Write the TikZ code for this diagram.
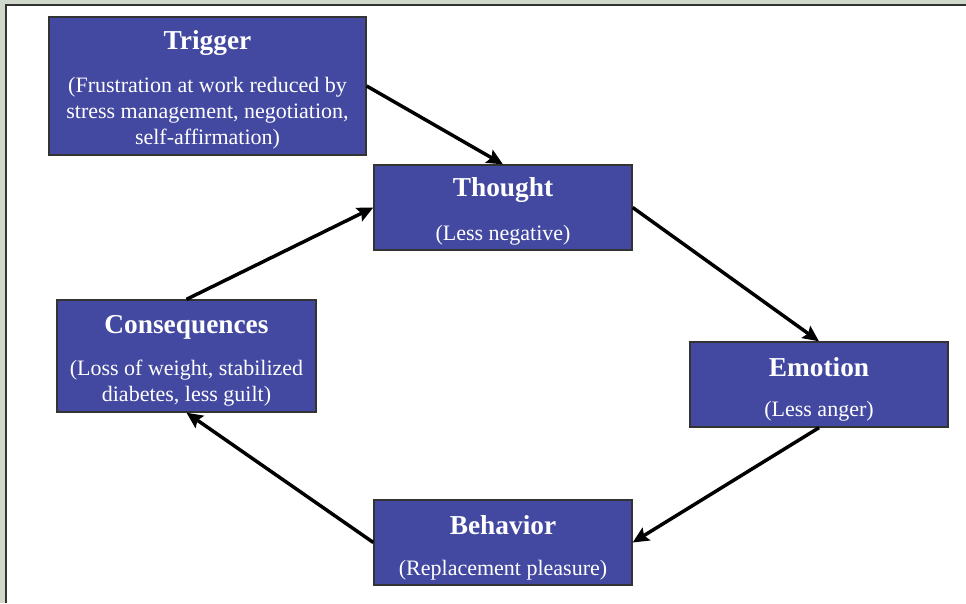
\documentclass[tikz,border=0pt]{standalone}
\usepackage{fontspec}
\setmainfont{Liberation Serif}
\usetikzlibrary{arrows.meta}
\definecolor{boxblue}{HTML}{4349A0}
\definecolor{framegray}{HTML}{D0D8CC}
\definecolor{edgegray}{HTML}{333333}
\tikzset{
  box/.style={draw=edgegray, line width=1pt, fill=boxblue, inner sep=0pt},
  ttl/.style={text=white, font=\fontsize{20.5}{24}\selectfont\bfseries, inner sep=0pt},
  sub/.style={text=white, font=\fontsize{16.5}{19.5}\selectfont, align=center, inner sep=0pt},
  flow/.style={line width=2.6pt, -{Stealth[length=12pt,width=11pt,inset=2pt]}, shorten >=0pt}
}
\begin{document}
\begin{tikzpicture}[x=0.75pt,y=-0.75pt]
\useasboundingbox (0,0) rectangle (966,603);
\fill[framegray] (0,0) rectangle (966,603);
\fill[white] (7,6) rectangle (966,603);
\draw[edgegray, line width=1.5pt] (6,603) -- (6,5) -- (966,5);
% boxes
\node[box, minimum width=317*0.75pt, minimum height=138*0.75pt] (trig) at (207.5,86) {};
\node[box, minimum width=258*0.75pt, minimum height=85*0.75pt] (thought) at (503,207.5) {};
\node[box, minimum width=259*0.75pt, minimum height=112*0.75pt] (cons) at (186.5,356) {};
\node[box, minimum width=258*0.75pt, minimum height=85*0.75pt] (emo) at (819,384.5) {};
\node[box, minimum width=258*0.75pt, minimum height=85*0.75pt] (beh) at (503,542.5) {};
% texts
\node[ttl] (trigT) at (207.5,43) {Trigger};
\node[sub] (trigS) at (207.5,113) {(Frustration at work reduced by\\stress management, negotiation,\\self-affirmation)};
\node[ttl] (thoughtT) at (503,190) {Thought};
\node[sub] (thoughtS) at (503,235) {(Less negative)};
\node[ttl] (consT) at (186.5,327) {Consequences};
\node[sub] (consS) at (186.5,383) {(Loss of weight, stabilized\\diabetes, less guilt)};
\node[ttl] (emoT) at (819,367) {Emotion};
\node[sub] (emoS) at (819,411) {(Less anger)};
\node[ttl] (behT) at (503,525) {Behavior};
\node[sub] (behS) at (503,570) {(Replacement pleasure)};
% arrows
\draw[flow] (trig.east) -- (thought.north);
\draw[flow] (thought.east) -- (emo.north);
\draw[flow] (emo.south) -- (beh.east);
\draw[flow] (beh.west) -- (cons.south);
\draw[flow] (cons.north) -- (thought.west);
\end{tikzpicture}
\end{document}
